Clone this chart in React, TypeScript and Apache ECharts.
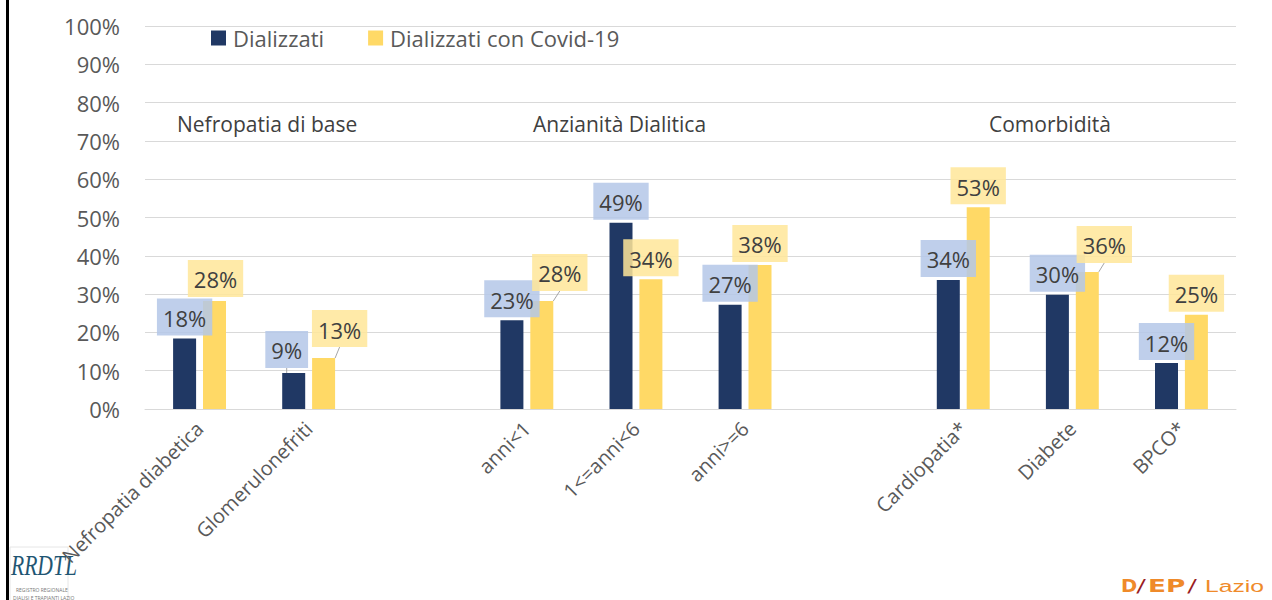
import React, { useEffect, useRef } from "react";
import * as echarts from "echarts";

const categories = [
  "Nefropatia diabetica",
  "Glomerulonefriti",
  "",
  "anni<1",
  "1<=anni<6",
  "anni>=6",
  "",
  "Cardiopatia*",
  "Diabete",
  "BPCO*",
];
const seriesNames = ["Dializzati", "Dializzati con Covid-19"];
const dializzati = [18.4, 9.4, null, 23.2, 48.6, 27.2, null, 33.7, 29.8, 12.0];
const covid = [28.2, 13.3, null, 28.2, 33.9, 37.6, null, 52.7, 35.8, 24.6];
const groupTitles = ["Nefropatia di base", "Anzianità Dialitica", "Comorbidità"];

// layout-only: manual label shifts (px) as in the original
const darkLabelShift: [number, number][] = [
  [0, 0], [-7, -2], [0, 0], [0, 0], [0, 0], [0, 0], [0, 0], [0, 0], [0, 0], [0, 0],
];
const covidLabelShift: [number, number][] = [
  [1, -1], [16, -8], [0, 0], [18, -7], [0, 0], [0, 0], [0, 0], [0, 0], [17, -6], [0, 0],
];
const groupTitleX = [177, 533, 989];

const FONT = "'Open Sans', 'Noto Sans', sans-serif";

export default function App() {
  const ref = useRef<HTMLDivElement>(null);
  useEffect(() => {
    document.body.style.margin = "0";
    if (!ref.current) return;
    const chart = echarts.init(ref.current, undefined, { renderer: "svg" });

    const labelBase = {
      show: true,
      position: "top" as const,
      distance: 3,
      fontFamily: FONT,
      fontSize: 22,
      lineHeight: 25,
      color: "#404040",
      padding: [7, 6, 5, 6],
      formatter: (p: any) => Math.round(p.value) + "%",
    };

    const makeData = (vals: (number | null)[], shifts: [number, number][]) =>
      vals.map((v, i) => {
        const moved = Math.abs(shifts[i][0]) > 5 || Math.abs(shifts[i][1]) > 5;
        return {
          value: v,
          labelLine: { show: moved, lineStyle: { color: "#a6a6a6", width: 1 } },
        };
      });

    const dep = "'DejaVu Sans', sans-serif";

    chart.setOption({
      animation: false,
      textStyle: { fontFamily: FONT },
      grid: { left: 145, right: 36, top: 26, bottom: 191, containLabel: false },
      legend: {
        left: 211,
        top: 25,
        padding: 0,
        itemWidth: 15,
        itemHeight: 15,
        itemGap: 44,
        icon: "rect",
        textStyle: { fontSize: 22, lineHeight: 26, color: "#595959", fontFamily: FONT, padding: [0, 0, 0, 2] },
        data: seriesNames,
      },
      xAxis: {
        type: "category",
        data: categories,
        axisTick: { show: false },
        axisLine: { lineStyle: { color: "#d9d9d9", width: 1 } },
        axisLabel: {
          rotate: 45,
          interval: 0,
          margin: 16,
          fontSize: 20,
          color: "#595959",
          fontFamily: FONT,
        },
      },
      yAxis: {
        type: "value",
        min: 0,
        max: 100,
        interval: 10,
        axisLine: { show: false },
        axisTick: { show: false },
        splitLine: { lineStyle: { color: "#d9d9d9", width: 1 } },
        axisLabel: {
          formatter: "{value}%",
          margin: 25,
          fontSize: 22,
          color: "#595959",
          fontFamily: FONT,
        },
      },
      series: [
        {
          name: seriesNames[0],
          type: "bar",
          barWidth: 23,
          barGap: "30%",
          itemStyle: { color: "#203864" },
          data: makeData(dializzati, darkLabelShift),
          label: { ...labelBase, backgroundColor: "rgba(180,199,231,0.85)" },
          labelLayout: (p: any) => ({
            dx: darkLabelShift[p.dataIndex][0],
            dy: darkLabelShift[p.dataIndex][1],
          }),
          z: 2,
        },
        {
          name: seriesNames[1],
          type: "bar",
          barWidth: 23,
          barGap: "30%",
          itemStyle: { color: "#ffd966" },
          data: makeData(covid, covidLabelShift),
          label: { ...labelBase, backgroundColor: "rgba(255,230,153,0.85)" },
          labelLayout: (p: any) => ({
            dx: covidLabelShift[p.dataIndex][0],
            dy: covidLabelShift[p.dataIndex][1],
          }),
          z: 2,
        },
      ],
      graphic: [
        ...groupTitles.map((t, i) => ({
          type: "text",
          left: groupTitleX[i],
          top: 113,
          style: { text: t, fontSize: 21, fill: "#404040", fontFamily: FONT },
        })),
        {
          type: "rect",
          shape: { x: 6, y: 0, width: 3, height: 600 },
          style: { fill: "#000000" },
        },
        {
          type: "rect",
          shape: { x: 10, y: 547, width: 58, height: 60 },
          style: { fill: "#ffffff", stroke: "#e6e6e6", lineWidth: 1 },
        },
        {
          type: "text",
          x: 11,
          y: 550,
          scaleX: 0.72,
          style: {
            text: "RRDTL",
            fontSize: 30,
            fontStyle: "italic",
            fontFamily: "'Liberation Serif', serif",
            fill: "#1f5673",
          },
        },
        {
          type: "text",
          x: 16,
          y: 587,
          style: { text: "REGISTRO REGIONALE", fontSize: 5, fill: "#777777", fontFamily: FONT },
        },
        {
          type: "text",
          x: 13,
          y: 595,
          style: { text: "DIALISI E TRAPIANTI LAZIO", fontSize: 5, fill: "#777777", fontFamily: FONT },
        },
        {
          type: "text", x: 1121, y: 577, scaleX: 1.15,
          style: { text: "D", fontSize: 17, fontWeight: 900, fill: "#ef8a2a", fontFamily: dep },
        },
        {
          type: "text", x: 1138, y: 576,
          style: { text: "/", fontSize: 18, fontWeight: 900, fontStyle: "italic", fill: "#9a1c22", fontFamily: dep },
        },
        {
          type: "text", x: 1148, y: 577, scaleX: 1.55,
          style: { text: "EP", fontSize: 17, fontWeight: 900, fill: "#ef8a2a", fontFamily: dep },
        },
        {
          type: "text", x: 1189, y: 576,
          style: { text: "/", fontSize: 18, fontWeight: 900, fontStyle: "italic", fill: "#9a1c22", fontFamily: dep },
        },
        {
          type: "text", x: 1205, y: 577, scaleX: 1.45,
          style: { text: "Lazio", fontSize: 17, fill: "#ef8a2a", fontFamily: "'Liberation Sans', sans-serif" },
        },
      ],
    });
    return () => chart.dispose();
  }, []);
  return <div ref={ref} style={{ width: 1272, height: 600 }} />;
}
